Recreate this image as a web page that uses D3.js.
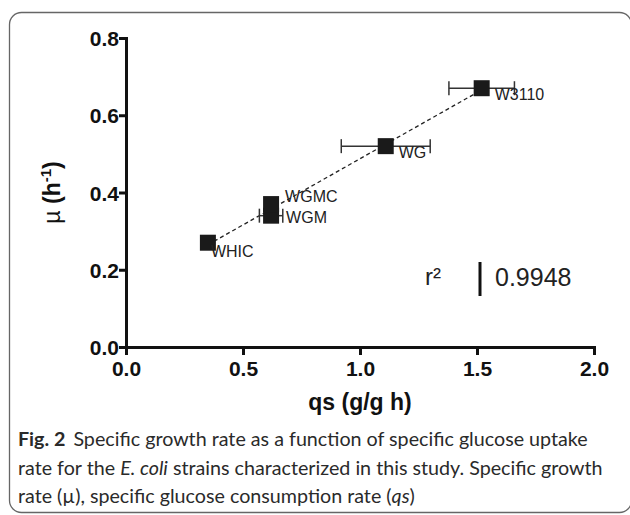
<!DOCTYPE html>
<html>
<head>
<meta charset="utf-8">
<script src="https://cdnjs.cloudflare.com/ajax/libs/d3/7.8.5/d3.min.js"></script>
<style>
  body { margin: 0; background: #fff; }
  svg { display: block; }
</style>
</head>
<body>
<div id="chart"></div>
<script>
// strains, specific glucose uptake (qs) and growth rate (mu)
const strains = ["WHIC", "WGM", "WGMC", "WG", "W3110"];
const qs = [0.35, 0.62, 0.62, 1.11, 1.52];
const qsErr = [0.01, 0.05, 0.01, 0.19, 0.14];
const mu = [0.27, 0.34, 0.37, 0.52, 0.67];
const xTicks = [0.0, 0.5, 1.0, 1.5, 2.0];
const yTicks = [0.0, 0.2, 0.4, 0.6, 0.8];
const r2 = "0.9948";

const W = 630, H = 515;
const margin = { top: 38, right: 36, bottom: 168, left: 126 };
const width = W - margin.left - margin.right;
const height = H - margin.top - margin.bottom;

const svg = d3.select("#chart").append("svg")
  .attr("width", W).attr("height", H);

// card frame
svg.append("rect")
  .attr("x", 9.5).attr("y", 12.5)
  .attr("width", 622).attr("height", 500)
  .attr("rx", 12)
  .attr("fill", "none")
  .attr("stroke", "#666")
  .attr("stroke-width", 1.3);

const g = svg.append("g")
  .attr("transform", `translate(${margin.left},${margin.top})`);

const x = d3.scaleLinear().domain([0, 2]).range([0, width]);
const y = d3.scaleLinear().domain([0, 0.8]).range([height, 0]);

const axisFont = "'Liberation Sans', Arial, sans-serif";

// axes
const xAxis = g.append("g")
  .attr("transform", `translate(0,${height})`)
  .call(d3.axisBottom(x).tickValues(xTicks).tickFormat(d3.format(".1f")).tickSizeOuter(0).tickSize(8).tickPadding(4));
const yAxis = g.append("g")
  .call(d3.axisLeft(y).tickValues(yTicks).tickFormat(d3.format(".1f")).tickSizeOuter(0).tickSize(7).tickPadding(0));

[xAxis, yAxis].forEach(a => {
  a.select(".domain").attr("stroke", "#111").attr("stroke-width", 3);
  a.selectAll(".tick line").attr("stroke", "#111").attr("stroke-width", 3);
  a.selectAll(".tick text")
    .attr("fill", "#111")
    .style("font-family", axisFont)
    .style("font-weight", "bold")
    .style("font-size", "21px");
});
xAxis.selectAll(".tick text").attr("dy", "0.8em");
yAxis.selectAll(".tick text").attr("dy", "0.36em");

// axis titles
svg.append("text")
  .attr("x", margin.left + width / 2)
  .attr("y", 410)
  .attr("text-anchor", "middle")
  .style("font-family", axisFont)
  .style("font-weight", "bold")
  .style("font-size", "23px")
  .attr("fill", "#111")
  .text("qs (g/g h)");

const yTitle = svg.append("text")
  .attr("transform", `translate(60,${margin.top + height / 2}) rotate(-90)`)
  .attr("text-anchor", "middle")
  .style("font-family", axisFont)
  .style("font-size", "23px")
  .attr("fill", "#111");
yTitle.append("tspan").style("font-weight", "normal").text("\u00b5 ");
yTitle.append("tspan").style("font-weight", "bold").text("(h");
yTitle.append("tspan").style("font-weight", "bold").style("font-size", "15px").attr("dy", "-9").text("-1");
yTitle.append("tspan").style("font-weight", "bold").attr("dy", "9").text(")");

// linear regression line through the points
const data = strains.map((s, i) => ({ name: s, qs: qs[i], err: qsErr[i], mu: mu[i] }));
const mx = d3.mean(qs), my = d3.mean(mu);
const slope = d3.sum(data, d => (d.qs - mx) * (d.mu - my)) / d3.sum(data, d => (d.qs - mx) ** 2);
const icpt = my - slope * mx;
const [x0, x1] = d3.extent(qs);
g.append("path")
  .attr("d", d3.line()([[x(x0), y(icpt + slope * x0)], [x(x1), y(icpt + slope * x1)]]))
  .attr("stroke", "#222")
  .attr("stroke-width", 1.3)
  .attr("stroke-dasharray", "4,3")
  .attr("fill", "none");

// horizontal error bars
const eb = g.append("g").attr("stroke", "#333").attr("stroke-width", 1.5);
data.forEach(d => {
  const yy = y(d.mu);
  eb.append("line").attr("x1", x(d.qs - d.err)).attr("x2", x(d.qs + d.err)).attr("y1", yy).attr("y2", yy);
  [d.qs - d.err, d.qs + d.err].forEach(v => {
    eb.append("line").attr("x1", x(v)).attr("x2", x(v)).attr("y1", yy - 7).attr("y2", yy + 7);
  });
});

// square markers
const sq = 16;
g.selectAll("rect.pt")
  .data(data)
  .enter()
  .append("rect")
  .attr("class", "pt")
  .attr("x", d => x(d.qs) - sq / 2)
  .attr("y", d => y(d.mu) - sq / 2)
  .attr("width", sq)
  .attr("height", sq)
  .attr("fill", "#1a1a1a");

// point labels
const labelDx = { WHIC: 3, WGM: 15, WGMC: 14, WG: 13, W3110: 13 };
const labelDy = { WHIC: 14, WGM: 7, WGMC: -2, WG: 12, W3110: 12 };
g.selectAll("text.lbl")
  .data(data)
  .enter()
  .append("text")
  .attr("class", "lbl")
  .attr("x", d => x(d.qs) + labelDx[d.name])
  .attr("y", d => y(d.mu) + labelDy[d.name])
  .style("font-family", axisFont)
  .style("font-size", "16px")
  .attr("fill", "#222")
  .text(d => d.name);

// r squared annotation
svg.append("text")
  .attr("x", 425).attr("y", 285)
  .style("font-family", axisFont)
  .style("font-size", "24px")
  .attr("fill", "#222")
  .text("r\u00b2");
svg.append("line")
  .attr("x1", 480).attr("x2", 480).attr("y1", 262).attr("y2", 296)
  .attr("stroke", "#111").attr("stroke-width", 3);
svg.append("text")
  .attr("x", 495).attr("y", 286)
  .style("font-family", axisFont)
  .style("font-size", "25px")
  .attr("fill", "#222")
  .text(r2);

// caption, font size fitted to the card width
const capFont = "Lato, 'Open Sans', sans-serif";
const cap = svg.append("g")
  .style("font-family", capFont)
  .style("font-size", "20px")
  .attr("fill", "#2a2a2a");
const l1 = cap.append("text").attr("x", 18).attr("y", 446);
l1.append("tspan").style("font-weight", "bold").text("Fig. 2");
l1.append("tspan").attr("dx", 8).text("Specific growth rate as a function of specific glucose uptake");
const l2 = cap.append("text").attr("x", 18).attr("y", 475);
l2.append("tspan").text("rate for the ");
l2.append("tspan").style("font-style", "italic").text("E. coli");
l2.append("tspan").text(" strains characterized in this study. Specific growth");
const l3 = cap.append("text").attr("x", 18).attr("y", 503);
l3.append("tspan").text("rate (\u00b5), specific glucose consumption rate (");
l3.append("tspan").style("font-style", "italic").text("qs");
l3.append("tspan").text(")");
const len1 = l1.node().getComputedTextLength();
const len2 = l2.node().getComputedTextLength();
const capSize = Math.min(20 * 592 / len1, 20 * 585 / len2);
cap.style("font-size", capSize.toFixed(2) + "px");
</script>
</body>
</html>
